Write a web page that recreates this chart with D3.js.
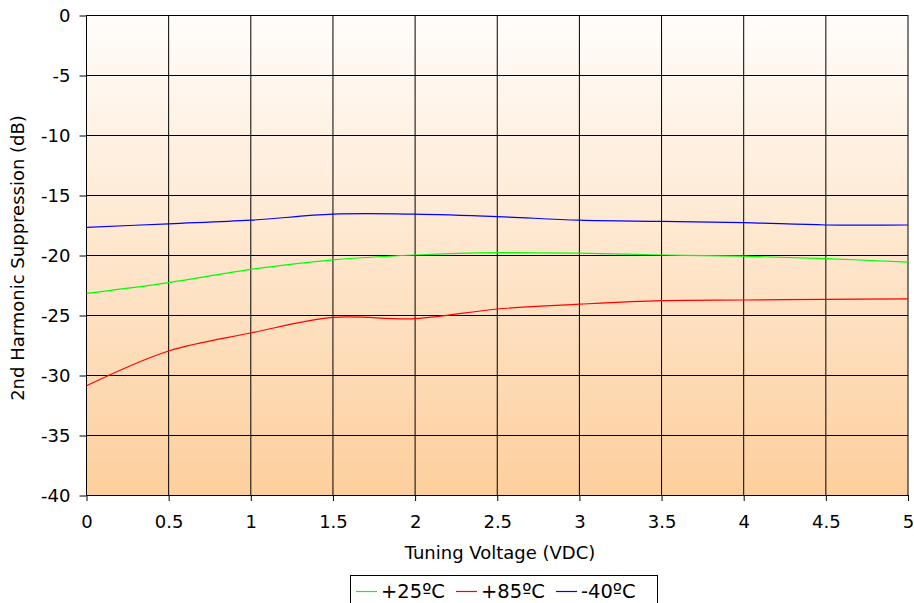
<!DOCTYPE html>
<html><head><meta charset="utf-8">
<script src="https://cdn.jsdelivr.net/npm/d3@7"></script>
<style>body{margin:0;background:#fff}svg{display:block}</style>
</head><body>
<svg id="c" width="914" height="603"></svg>
<script>
const voltages = [0, 0.5, 1, 1.5, 2, 2.5, 3, 3.5, 4, 4.5, 5];
const s25 = [-23.2, -22.3, -21.2, -20.4, -20.0, -19.8, -19.85, -20.0, -20.1, -20.3, -20.6];
const s85 = [-30.9, -28.0, -26.5, -25.2, -25.3, -24.5, -24.1, -23.8, -23.75, -23.7, -23.65];
const sm40 = [-17.7, -17.4, -17.1, -16.6, -16.6, -16.8, -17.1, -17.2, -17.3, -17.5, -17.5];
const seriesNames = ["+25ºC", "+85ºC", "-40ºC"];
const seriesColors = ["#00ff00", "#ff0000", "#0000ff"];
const xTicks = [0, 0.5, 1, 1.5, 2, 2.5, 3, 3.5, 4, 4.5, 5];
const yTicks = [0, -5, -10, -15, -20, -25, -30, -35, -40];

const svg = d3.select("#c");
const font = "'DejaVu Sans', Verdana, sans-serif";
const L = 86.5, R = 908, T = 15, B = 495;
const x = d3.scaleLinear().domain([0, 5]).range([L, R]);
const y = d3.scaleLinear().domain([-40, 0]).range([B, T]);

const defs = svg.append("defs");
const g = defs.append("linearGradient").attr("id","bg").attr("x1",0).attr("y1",0).attr("x2",0).attr("y2",1);
g.append("stop").attr("offset","0%").attr("stop-color","#fffdfb");
g.append("stop").attr("offset","100%").attr("stop-color","#fdcf9d");
svg.append("rect").attr("x",L).attr("y",T).attr("width",R-L).attr("height",B-T).attr("fill","url(#bg)");

// grid
svg.append("g").selectAll("line").data(yTicks).join("line")
  .attr("x1",L).attr("x2",R).attr("y1",d=>Math.round(y(d))+0.5).attr("y2",d=>Math.round(y(d))+0.5)
  .attr("stroke","#000").attr("stroke-width",1);
svg.append("g").selectAll("line").data(xTicks).join("line")
  .attr("x1",d=>x(d)).attr("x2",d=>x(d)).attr("y1",T).attr("y2",B)
  .attr("stroke","#000").attr("stroke-width",1);

// axes
const yAxis = d3.axisLeft(y).tickValues(yTicks).tickSize(7).tickPadding(9).tickFormat(d=>String(d));
const ya = svg.append("g").attr("transform",`translate(${L},0.5)`).call(yAxis);
const xAxis = d3.axisBottom(x).tickValues(xTicks).tickSize(6).tickPadding(14).tickFormat(d=>String(d));
const xa = svg.append("g").attr("transform",`translate(0,${B})`).call(xAxis);
[ya, xa].forEach(a=>{
  a.select(".domain").remove();
  a.selectAll("line").attr("stroke","#000");
  a.selectAll("text").attr("font-family",font).attr("font-size",18).attr("fill","#000");
});
svg.append("line").attr("x1",L).attr("x2",L).attr("y1",T).attr("y2",B).attr("stroke","#000");

// lines
const allSeries = [s25, s85, sm40];
const line = d3.line().x((d,i)=>x(voltages[i])).y(d=>y(d)).curve(d3.curveCatmullRom.alpha(0.5));
svg.append("g").selectAll("path").data(allSeries).join("path")
  .attr("d",d=>line(d)).attr("fill","none").attr("stroke",(d,i)=>seriesColors[i]).attr("stroke-width",1.2);

// titles
svg.append("text").attr("x",500).attr("y",559).attr("text-anchor","middle")
  .attr("font-family",font).attr("font-size",18).text("Tuning Voltage (VDC)");
svg.append("text").attr("transform",`translate(24,258) rotate(-90)`).attr("text-anchor","middle")
  .attr("font-family",font).attr("font-size",18).text("2nd Harmonic Suppression (dB)");

// legend
const lg = svg.append("g");
lg.append("rect").attr("x",350.5).attr("y",575.5).attr("width",307).attr("height",40)
  .attr("fill","#fff").attr("stroke","#000");
const legX = [356, 456, 556];
seriesNames.forEach((n,i)=>{
  lg.append("line").attr("x1",legX[i]).attr("x2",legX[i]+21).attr("y1",591.5).attr("y2",591.5)
    .attr("stroke",seriesColors[i]).attr("stroke-width",1.2);
  lg.append("text").attr("x",legX[i]+25).attr("y",598).attr("font-family",font).attr("font-size",19.5).text(n);
});
</script>
</body></html>
